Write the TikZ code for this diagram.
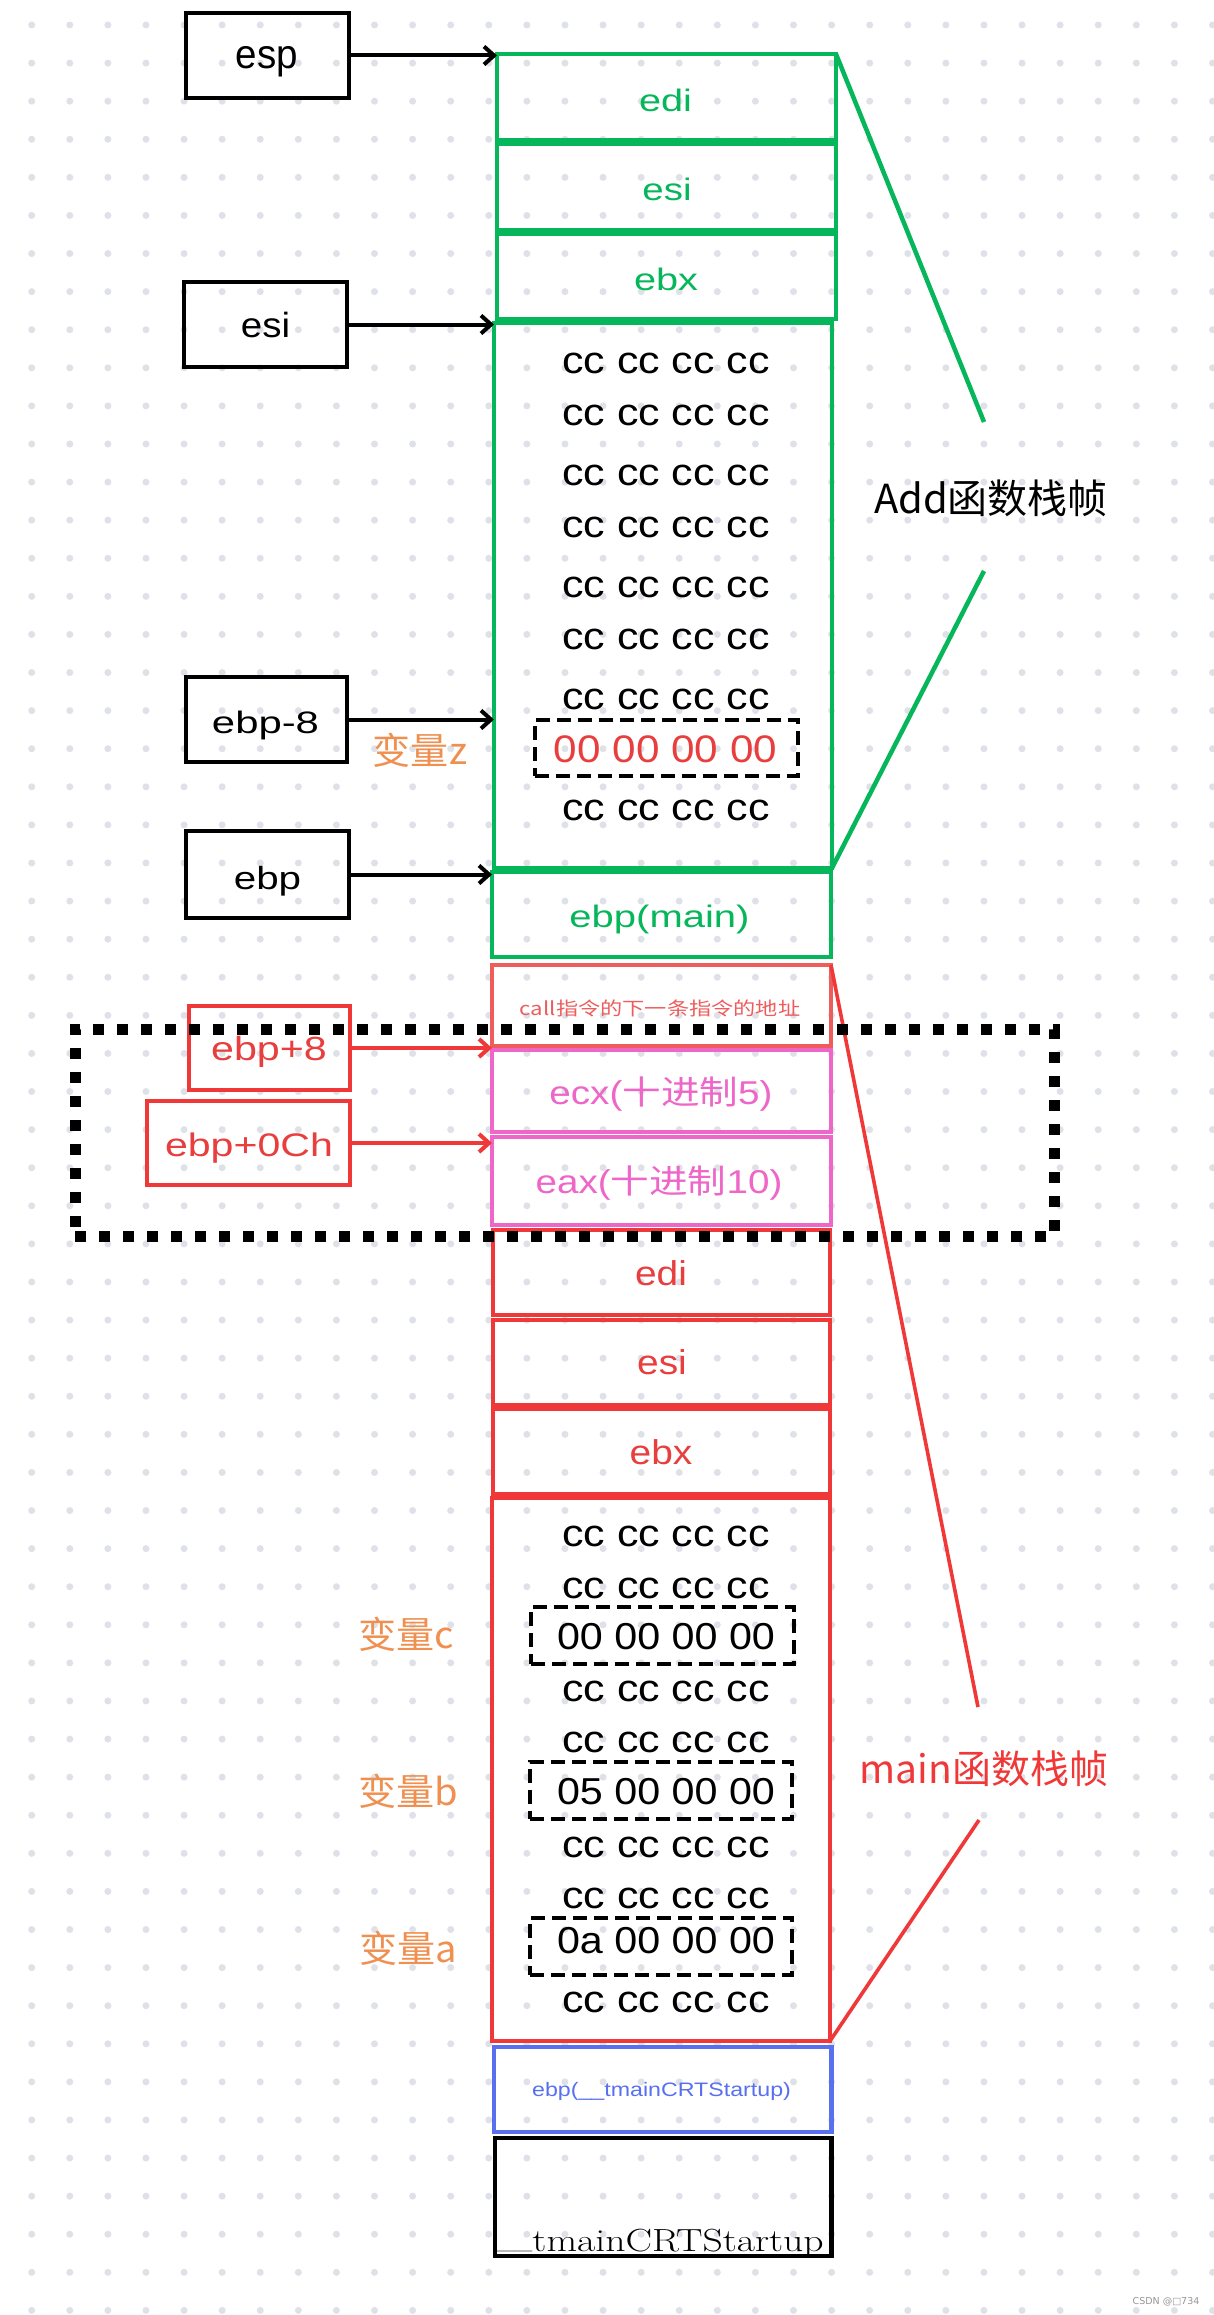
\documentclass[tikz,border=0pt]{standalone}
\usepackage{fontspec}
\usepackage{graphicx}
\newfontfamily\lsans{Liberation Sans}
\newfontfamily\cjk{Noto Sans CJK SC}
\newfontfamily\wmfont{DejaVu Sans}
\usetikzlibrary{arrows.meta}
\definecolor{gr}{RGB}{6,182,90}
\definecolor{rd}{RGB}{240,56,56}
\definecolor{rdtxt}{RGB}{232,62,62}
\definecolor{salmon}{RGB}{238,92,92}
\definecolor{pk}{RGB}{238,102,200}
\definecolor{bl}{RGB}{88,112,240}
\definecolor{org}{RGB}{240,144,80}
\definecolor{dotc}{RGB}{222,225,231}
\definecolor{wmgray}{RGB}{150,150,150}
\newcommand\fs[1]{\fontsize{#1}{#1}\selectfont}
\newcommand\sx[2]{\scalebox{#1}[1]{#2}}
\newcommand\cellbox[6]{\node[#6, minimum width={#4-#2}, minimum height={#5-#3}] (#1) at ({(#2+#4)/2},{(#3+#5)/2}) {};}
\tikzset{
  box/.style={draw, rectangle, inner sep=0pt, outer sep=0pt, line width=4.5pt},
  gcell/.style={box, draw=gr},
  rcell/.style={box, draw=rd, line width=4.2pt},
  scell/.style={box, draw=salmon, line width=4.2pt},
  pcell/.style={box, draw=pk, line width=4.2pt},
  bcell/.style={box, draw=bl, line width=4.5pt},
  kcell/.style={box, draw=black, line width=4.5pt},
  regbox/.style={box, draw=black, line width=4.5pt},
  redreg/.style={box, draw=rd, line width=4pt},
  dsh/.style={box, draw=black, line width=4pt, dash pattern=on 14pt off 7pt},
  tb/.style={inner sep=0pt, outer sep=0pt, anchor=base},
  tc/.style={inner sep=0pt, outer sep=0pt, anchor=center},
  arr/.style={line width=4pt, line cap=round, line join=round, -{Straight Barb[length=10pt,width=18pt]}},
  garr/.style={draw=gr, line width=4.5pt},
  rline/.style={draw=rd, line width=3.6pt},
}
\begin{document}
\begin{tikzpicture}[x=1pt,y=-1pt]
\fill[white] (0,0) rectangle (1214,2315);
\useasboundingbox (0,0) rectangle (1214,2315);
% dot grid
\foreach \i in {0,...,31}{\foreach \j in {0,...,60}{\fill[dotc] ({31.7+38.09*\i},{25+38.09*\j}) circle[radius=3.5pt];}}

% ---- Add frame cells
\cellbox{addedi}{497}{54}{836}{140}{gcell}
\cellbox{addesi}{497}{144}{836}{230}{gcell}
\cellbox{addebx}{497}{234}{836}{319}{gcell}
\cellbox{addcc}{494}{323}{832}{868}{gcell}
\cellbox{ebpmain}{492}{872}{831}{957}{gcell}
% ---- call / params
\cellbox{callb}{492}{965}{831}{1046}{scell}
\cellbox{ecx}{492}{1050}{831}{1132}{pcell}
\cellbox{eax}{492}{1137}{831}{1225}{pcell}
% ---- main frame cells
\cellbox{medi}{493}{1230}{830}{1315}{rcell}
\cellbox{mesi}{493}{1320}{830}{1405}{rcell}
\cellbox{mebx}{493}{1409}{830}{1494}{rcell}
\cellbox{mcc}{492}{1498}{830}{2041}{rcell}
\cellbox{bbp}{494}{2047}{831.5}{2132}{bcell}
\cellbox{crt}{495}{2138}{831.5}{2256}{kcell}
% ---- dashed variable boxes
\cellbox{dz}{535}{720}{798}{776}{dsh}
\cellbox{dc}{531}{1607}{794}{1664}{dsh}
\cellbox{db}{530}{1761.5}{792}{1818.5}{dsh}
\cellbox{da}{530}{1917.5}{792}{1975}{dsh}
% ---- register boxes on the left
\cellbox{esp}{186}{13}{349}{98}{regbox}
\cellbox{esi}{184}{282}{347}{367}{regbox}
\cellbox{ebpm}{186}{677}{347}{762}{regbox}
\cellbox{ebp}{186}{831}{349}{918}{regbox}
\cellbox{ebpp}{189}{1006}{350}{1090}{redreg}
\cellbox{ebpc}{147}{1101}{350}{1185}{redreg}

% ---- texts in Add frame
\node[tb, font=\lsans, text=gr] (t1) at (665.5,111) {\sx{1.28}{\fs{31}edi}};
\node[tb, font=\lsans, text=gr] (t2) at (667,200) {\sx{1.24}{\fs{31}esi}};
\node[tb, font=\lsans, text=gr] (t3) at (666,290) {\sx{1.28}{\fs{31}ebx}};
\foreach \y [count=\k] in {373,425,485.7,537.5,597.5,649.3,709,820.7}{
  \node[tb, font=\lsans] (ac\k) at (666,\y) {\sx{1.13}{\fs{38}cc cc cc cc}};}
\node[tb, font=\lsans, text=rdtxt] (zval) at (665.5,762.5) {\sx{1.1}{\fs{38.4}00 00 00 00}};
\node[tc, font=\cjk, text=org] (lz) at (420,750) {\sx{1.03}{\fs{37}变量z}};
\node[tb, font=\lsans, text=gr] (t4) at (659.5,927) {\sx{1.29}{\fs{31}ebp(main)}};
% ---- call / params texts
\node[tc, font=\cjk, text=salmon] (t5) at (660,1008) {\sx{1.2}{\fs{18.5}call指令的下一条指令的地址}};
\node[tb, text=pk] (t6) at (661,1104) {\sx{1.17}{\fs{33}{\lsans ecx(}{\cjk 十进制}{\lsans 5)}}};
\node[tb, text=pk] (t7) at (659,1193) {\sx{1.17}{\fs{33}{\lsans eax(}{\cjk 十进制}{\lsans 10)}}};
% ---- main frame texts
\node[tb, font=\lsans, text=rdtxt] (t8) at (661,1285) {\sx{1.13}{\fs{34.4}edi}};
\node[tb, font=\lsans, text=rdtxt] (t9) at (662,1374.6) {\sx{1.13}{\fs{34.4}esi}};
\node[tb, font=\lsans, text=rdtxt] (t10) at (661,1464) {\sx{1.13}{\fs{34.4}ebx}};
\foreach \y [count=\k] in {1546,1598,1701.4,1752,1857.4,1908.6,2012.3}{
  \node[tb, font=\lsans] (mc\k) at (666,\y) {\sx{1.13}{\fs{38}cc cc cc cc}};}
\node[tb, font=\lsans] (cval) at (666,1649.6) {\sx{1.1}{\fs{37.5}00 00 00 00}};
\node[tb, font=\lsans] (bval) at (666,1804) {\sx{1.1}{\fs{37.5}05 00 00 00}};
\node[tb, font=\lsans] (aval) at (666,1953.6) {\sx{1.1}{\fs{37.5}0a 00 00 00}};
\node[tc, font=\cjk, text=org] (lc) at (406,1634) {\sx{1.03}{\fs{37}变量c}};
\node[tc, font=\cjk, text=org] (lb) at (408.5,1791) {\sx{1.03}{\fs{37}变量b}};
\node[tc, font=\cjk, text=org] (la) at (408.5,1948) {\sx{1.03}{\fs{37}变量a}};
\node[tc, font=\lsans, text=bl] (t11) at (661.5,2091.6) {\sx{1.19}{\fs{19.5}ebp(\_\_tmainCRTStartup)}};
\node[inner sep=0pt, outer sep=0pt, anchor=base west] (t12) at (497,2251.6) {\raisebox{4pt}{\sx{0.8}{\fs{32}\_\_}}\sx{1.24}{\fs{32}tmainCRTStartup}};
% ---- register texts
\node[tb, font=\lsans] (r1) at (267,68.3) {\sx{0.94}{\fs{41}esp}};
\node[tb, font=\lsans] (r2) at (265.5,337.5) {\sx{1.1}{\fs{35}esi}};
\node[tb, font=\lsans] (r3) at (265.5,733) {\sx{1.35}{\fs{31}ebp-8}};
\node[tb, font=\lsans] (r4) at (267.5,889) {\sx{1.26}{\fs{32}ebp}};
\node[tb, font=\lsans, text=rdtxt] (r5) at (269,1060.7) {\sx{1.23}{\fs{33.5}ebp+8}};
\node[tb, font=\lsans, text=rdtxt] (r6) at (249,1156.7) {\sx{1.26}{\fs{32.6}ebp+0Ch}};

% ---- arrows
\draw[arr] (esp.east) -- (esp.east -| addedi.west);
\draw[arr] (esi.east) -- (esi.east -| addcc.west);
\draw[arr] (ebpm.east) -- (ebpm.east -| addcc.west);
\draw[arr] (ebp.east) -- (ebp.east -| ebpmain.west);
\draw[arr, draw=rd] (ebpp.east) -- (ebpp.east -| ecx.west);
\draw[arr, draw=rd] (ebpc.east) -- (ebpc.east -| eax.west);

% ---- frame brackets and labels
\coordinate (gA) at (984,422);
\coordinate (gB) at (984,571);
\draw[garr] (addedi.north east) -- (gA);
\draw[garr] (gB) -- (addcc.south east);
\node[tc, font=\cjk] (addlbl) at (991,498) {\fs{40}Add函数栈帧};
\coordinate (rA) at (978,1707);
\coordinate (rB) at (979,1820);
\draw[rline] (callb.north east) -- (rA);
\draw[rline] (rB) -- (mcc.south east);
\node[tc, font=\cjk, text=rd] (mainlbl) at (984,1769) {\fs{39}main函数栈帧};

% ---- dotted group rectangle
\node[draw=black, rectangle, inner sep=0pt, outer sep=0pt, line width=11pt, dash pattern=on 11pt off 13pt, minimum width=979, minimum height=207] (grp) at (564.5,1132.5) {};

% ---- watermark
\node[tc, font=\wmfont, text=wmgray] (wm) at (1166,2302) {\fs{9.5}CSDN @□734};
\end{tikzpicture}
\end{document}
